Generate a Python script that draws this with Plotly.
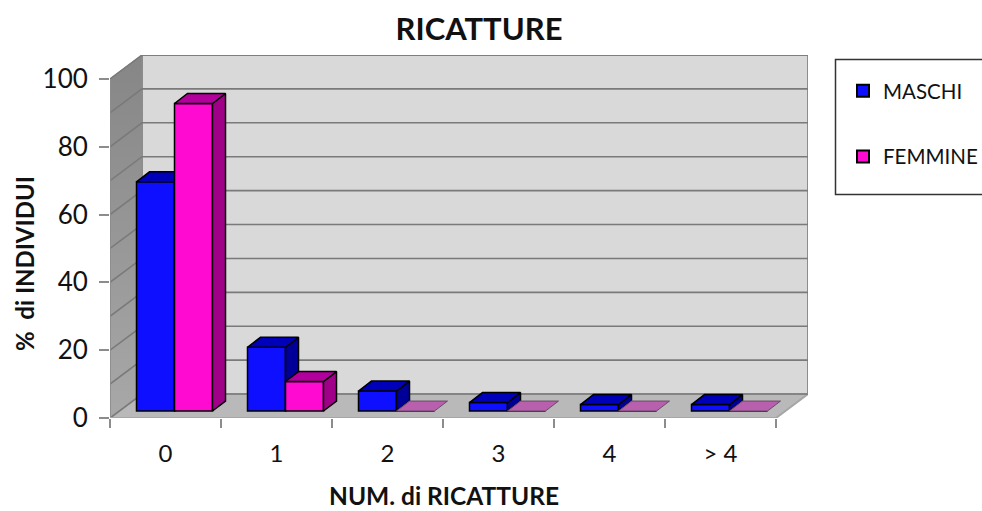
import plotly.graph_objects as go

categories = ["0", "1", "2", "3", "4", "> 4"]
maschi = [67.6, 18.8, 5.9, 2.5, 1.9, 1.9]
femmine = [90.7, 8.7, 0, 0, 0, 0]
y_ticks = [0, 20, 40, 60, 80, 100]
grid_values = [0, 10, 20, 30, 40, 50, 60, 70, 80, 90, 100]

FONT = "Lato"
DX, DY = 32 / 111, 24 / 3.4      # wall depth in axis units
BAR_W = 38 / 111
BAR_BASE = 7 / 3.4
BD_X, BD_Y = 13 / 111, 10 / 3.4  # bar depth
XMIN, XMAX = -0.5, len(categories) - 0.5
XR = [XMIN, XMAX + DX]
YR = [0, 100 + DY]


def poly(pts, color, xa, ya, line="black", lw=1.5):
    return go.Scatter(x=[p[0] for p in pts] + [pts[0][0]], y=[p[1] for p in pts] + [pts[0][1]],
                      mode="lines", fill="toself", fillcolor=color,
                      line=dict(color=line, width=lw), xaxis=xa, yaxis=ya,
                      showlegend=False, hoverinfo="skip", cliponaxis=False)


fig = go.Figure()

# --- walls and floor
fig.add_trace(poly([(XMIN + DX, DY), (XMAX + DX, DY), (XMAX + DX, 100 + DY), (XMIN + DX, 100 + DY)],
                   "#d9d9d9", "x", "y", "#8c8c8c", 2))
left = go.Scatter(x=[XMIN, XMIN + DX, XMIN + DX, XMIN, XMIN], y=[0, DY, 100 + DY, 100, 0],
                  mode="lines", fill="toself", line=dict(color="#8c8c8c", width=1),
                  fillgradient=dict(type="vertical", colorscale=[[0, "#a8a8a8"], [1, "#868686"]]),
                  showlegend=False, hoverinfo="skip", cliponaxis=False)
fig.add_trace(left)
fig.add_trace(poly([(XMIN, 0), (XMAX, 0), (XMAX + DX, DY), (XMIN + DX, DY)], "#b9b9b9", "x", "y", "#a6a6a6", 2))

gx, gy = [], []
for v in grid_values:
    gx += [XMIN, XMIN + DX, XMAX + DX, None]
    gy += [v, v + DY, v + DY, None]
fig.add_trace(go.Scatter(x=gx, y=gy, mode="lines", line=dict(color="#7a7a7a", width=1.6),
                         showlegend=False, hoverinfo="skip", cliponaxis=False))
fig.add_trace(go.Scatter(x=[XMIN, XMIN], y=[0, 100], mode="lines", line=dict(color="#8c8c8c", width=1.5),
                         showlegend=False, hoverinfo="skip", cliponaxis=False))
fig.add_trace(go.Scatter(x=[XMIN, XMAX], y=[0, 0], mode="lines", line=dict(color="#a6a6a6", width=2),
                         showlegend=False, hoverinfo="skip", cliponaxis=False))


# --- 3D bars: front faces are bars, depth faces are polygons on the same axes
def series(name, values, left_edge, front, top, side, flat, xa, ya):
    xs = [i + left_edge for i in range(len(values))]
    for i, v in enumerate(values):
        xl, xr = xs[i], xs[i] + BAR_W
        b, t = BAR_BASE, BAR_BASE + v
        if v == 0:
            fig.add_trace(poly([(xl, b), (xr, b), (xr + BD_X, b + BD_Y), (xl + BD_X, b + BD_Y)],
                               flat, xa, ya, "#6b4a68", 1))
            continue
        fig.add_trace(poly([(xr, b), (xr + BD_X, b + BD_Y), (xr + BD_X, t + BD_Y), (xr, t)], side, xa, ya))
        fig.add_trace(poly([(xl, t), (xr, t), (xr + BD_X, t + BD_Y), (xl + BD_X, t + BD_Y)], top, xa, ya))
    fig.add_trace(go.Bar(x=xs, y=values, base=[BAR_BASE] * len(values), width=BAR_W, offset=0,
                         name=name, legendgroup=name, marker=dict(color=front, line=dict(color="black", width=1.5)),
                         xaxis=xa, yaxis=ya))


series("MASCHI", maschi, -29 / 111, "#0f0fff", "#0000b8", "#000099", "#000099", "x2", "y2")
series("FEMMINE", femmine, 9 / 111, "#ff0ad0", "#b3009c", "#a00088", "#b85fae", "x3", "y3")

hidden = dict(range=XR, visible=False, fixedrange=True)
hiddeny = dict(range=YR, visible=False, fixedrange=True)

fig.update_layout(
    width=982, height=511, autosize=False,
    margin=dict(l=110, r=174, t=55, b=93, pad=0),
    paper_bgcolor="white", plot_bgcolor="white",
    barmode="overlay", font=dict(family=FONT, color="#111111"),
    title=dict(text="<b>RICATTURE</b>", x=479 / 982, xref="container", xanchor="center",
               y=1 - 29 / 511, yref="container", yanchor="middle", font=dict(size=31, family=FONT, color="#111111")),
    xaxis=dict(range=XR, tickmode="array", tickvals=list(range(len(categories))), ticktext=categories,
               ticks="", showgrid=False, zeroline=False, showline=False, fixedrange=True,
               tickfont=dict(size=24, family=FONT), ticklabelstandoff=19,
               minor=dict(tickmode="array", tickvals=[i - 0.5 for i in range(len(categories) + 1)],
                          ticks="outside", ticklen=9, tickcolor="#8c8c8c", tickwidth=1.5, showgrid=False)),
    yaxis=dict(range=YR, tickmode="array", tickvals=y_ticks, ticks="outside", ticklen=10,
               tickcolor="#8c8c8c", tickwidth=1.5, showgrid=False, zeroline=False, showline=False,
               fixedrange=True, ticklabelstandoff=6, tickfont=dict(size=26, family=FONT)),
    xaxis2=dict(overlaying="x", **hidden), yaxis2=dict(overlaying="y", **hiddeny),
    xaxis3=dict(overlaying="x", **hidden), yaxis3=dict(overlaying="y", **hiddeny),
    legend=dict(xref="container", yref="container", x=843 / 982, y=1 - 71 / 511, xanchor="left", yanchor="top",
                font=dict(size=20.5, family=FONT), tracegroupgap=36, bgcolor="rgba(0,0,0,0)", itemsizing="constant"),
    shapes=[dict(type="rect", xref="paper", yref="paper", x0=(835.5 - 110) / 698, x1=(1000 - 110) / 698,
                 y0=(418 - 194.5) / 363, y1=(418 - 59.5) / 363, line=dict(color="#333333", width=1.5),
                 fillcolor="white", layer="below")],
    annotations=[
        dict(text="<b>NUM. di RICATTURE</b>", xref="paper", yref="paper", x=(444 - 110) / 698, y=(418 - 495) / 363,
             showarrow=False, xanchor="center", yanchor="middle", font=dict(size=24.5, family=FONT, color="#111111")),
        dict(text="<b>%  di INDIVIDUI</b>", xref="paper", yref="paper", x=(24 - 110) / 698, y=(418 - 264) / 363,
             showarrow=False, textangle=-90, xanchor="center", yanchor="middle",
             font=dict(size=24, family=FONT, color="#111111")),
    ],
)

fig.write_html("out.html", config=dict(displayModeBar=False),
               post_script="document.body.style.margin='0';document.body.style.overflow='hidden';")
